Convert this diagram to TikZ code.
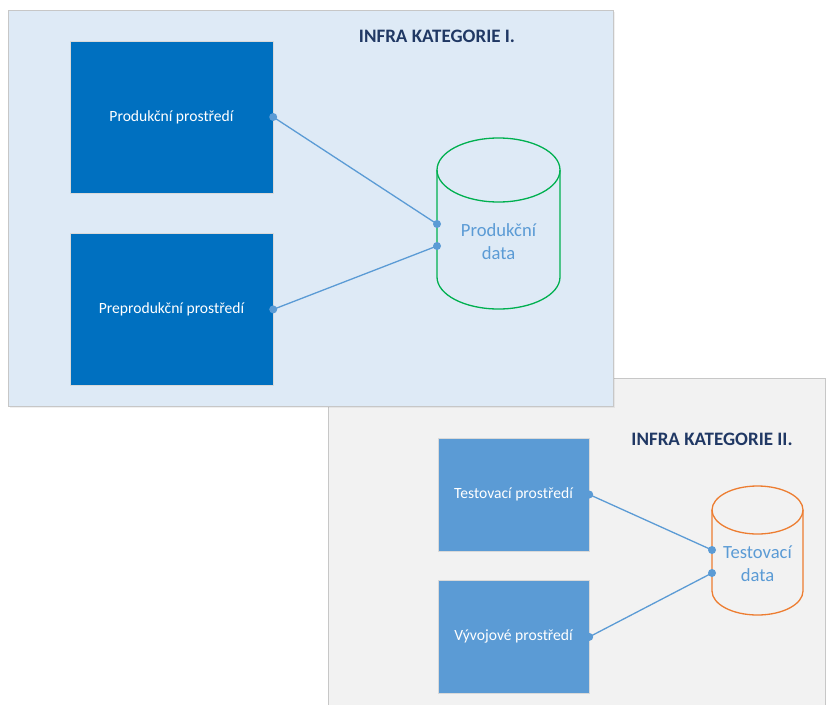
\documentclass[tikz,border=0pt]{standalone}
\usepackage{fontspec}
\setmainfont{Carlito}
\usepackage{xcolor}
\usetikzlibrary{positioning,shadows}

\definecolor{darkbox}{HTML}{0070C0}
\definecolor{lightbox}{HTML}{5B9BD5}
\definecolor{panelblue}{HTML}{DEEAF6}
\definecolor{panelgray}{HTML}{F2F2F2}
\definecolor{titlenavy}{HTML}{203864}
\definecolor{dbgreen}{HTML}{00B050}
\definecolor{dborange}{HTML}{ED7D31}

\begin{document}
\begin{tikzpicture}[x=1pt, y=-1pt,
    panel/.style={draw=black!22, line width=0.8pt},
    title/.style={font=\fontsize{19}{22}\selectfont\bfseries, text=titlenavy},
    prodbox/.style={draw=black!15, rectangle, fill=darkbox, text=white, minimum width=203pt, minimum height=152pt, font=\fontsize{15.6}{18}\selectfont},
    testbox/.style={draw=black!15, rectangle, fill=lightbox, text=white, minimum width=151pt, minimum height=113pt, font=\fontsize{15.6}{18}\selectfont},
    dbtext/.style={align=center, text=lightbox, font=\fontsize{18.6}{23}\selectfont},
    link/.style={lightbox, line width=1.3pt},
    dot/.style={fill=lightbox}
]
\useasboundingbox (0,0) rectangle (826,704);

% panels
\draw[panel, fill=panelgray] (328,378) rectangle (825,710);
\draw[panel, fill=panelblue, drop shadow={opacity=0.12, shadow xshift=1.5pt, shadow yshift=-1.5pt}] (8,10) rectangle (613,406);

\node[title] (t1) at (437,36) {INFRA KATEGORIE I.};
\node[title] (t2) at (712,439) {INFRA KATEGORIE II.};

% environments
\node[prodbox] (p1) at (171.5,117) {Produkční prostředí};
\node[prodbox, below=40pt of p1] (p2) {Preprodukční prostředí};

\node[testbox] (e1) at (513.5,494.5) {Testovací prostředí};
\node[testbox, below=29pt of e1] (e2) {Vývojové prostředí};

% databases
\draw[dbgreen, line width=1.3pt] (437,170) -- (437,277)
    arc[start angle=180, end angle=360, x radius=61.5pt, y radius=32pt] -- (560,170);
\draw[dbgreen, line width=1.3pt] (498.5,170) ellipse [x radius=61.5pt, y radius=32pt];
\node[dbtext] (d1) at (498.5,242) {Produkční\\data};
\coordinate (d1a) at (437,224);
\coordinate (d1b) at (437,246);

\draw[dborange, line width=1.3pt] (712,510) -- (712,591)
    arc[start angle=180, end angle=360, x radius=45.5pt, y radius=24pt] -- (803,510);
\draw[dborange, line width=1.3pt] (757.5,510) ellipse [x radius=45.5pt, y radius=24pt];
\node[dbtext] (d2) at (757.5,564) {Testovací\\data};
\coordinate (d2a) at (712,550);
\coordinate (d2b) at (712,573);

% links
\draw[link] (p1.east) -- (d1a);
\draw[link] (p2.east) -- (d1b);
\draw[link] (e1.east) -- (d2a);
\draw[link] (e2.east) -- (d2b);

\foreach \c in {p1.east,p2.east,e1.east,e2.east,d1a,d1b,d2a,d2b}
    \fill[dot] (\c) circle (4pt);

\end{tikzpicture}
\end{document}
